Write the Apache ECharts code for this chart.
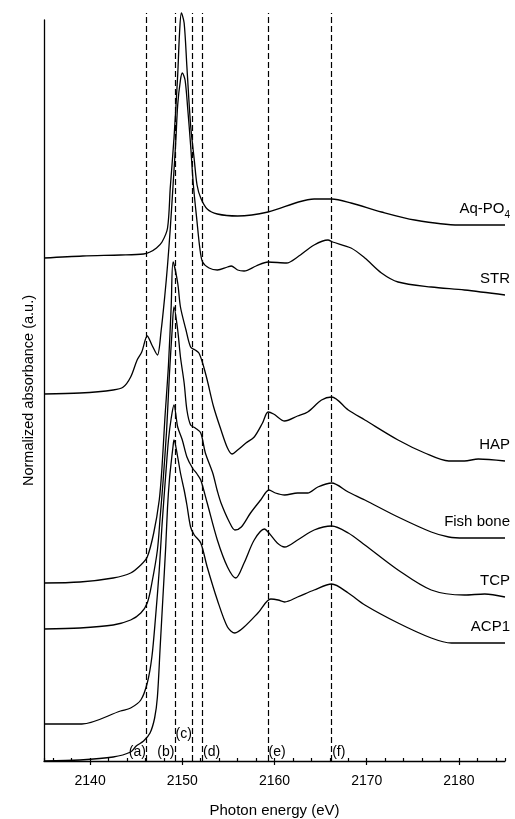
<!DOCTYPE html>
<html>
<head>
<meta charset="utf-8">
<script src="https://cdn.jsdelivr.net/npm/echarts@6/dist/echarts.min.js"></script>
<style>
html, body { margin: 0; padding: 0; background: #fff; }
#chart { width: 515px; height: 819px; }
</style>
</head>
<body>
<div id="chart"></div>
<script>
// P K-edge XANES, offset spectra: [photon energy (eV), normalized absorbance (a.u.)]
var aqPO4 = [[2135.0,5.03],[2139.2,5.05],[2143.3,5.06],[2145.8,5.07],[2146.5,5.09],[2147.2,5.13],[2147.8,5.19],
    [2148.4,5.33],[2148.7,5.74],[2149.1,6.23],[2149.5,6.86],[2149.7,7.28],[2149.9,7.48],[2150.2,7.38],[2150.5,6.94],
    [2150.9,6.36],[2151.3,6.01],[2151.6,5.76],[2152.0,5.63],[2152.7,5.52],[2153.8,5.47],[2156.0,5.45],[2159.3,5.49],
    [2162.6,5.59],[2164.3,5.62],[2166.2,5.62],[2168.3,5.58],[2171.6,5.49],[2175.2,5.41],[2180.0,5.36],[2185.0,5.36]];
var str = [[2135.0,3.67],[2138.9,3.68],[2142.5,3.71],[2143.6,3.74],[2144.4,3.84],[2145.1,4.01],[2145.6,4.09],
    [2146.2,4.25],[2146.7,4.16],[2147.3,4.06],[2147.7,4.30],[2148.1,4.65],[2148.4,4.96],[2148.7,5.33],[2149.0,5.76],
    [2149.3,6.21],[2149.5,6.56],[2149.8,6.81],[2150.0,6.88],[2150.3,6.81],[2150.6,6.51],[2150.9,6.16],[2151.2,5.76],
    [2151.6,5.39],[2151.9,5.13],[2152.2,4.99],[2152.9,4.93],[2153.8,4.91],[2154.9,4.94],[2155.3,4.95],[2156.0,4.91],
    [2156.7,4.90],[2158.0,4.95],[2159.3,4.99],[2161.3,4.98],[2162.5,5.04],[2164.3,5.16],[2165.8,5.21],[2166.3,5.19],
    [2168.3,5.13],[2169.8,5.03],[2171.6,4.88],[2173.4,4.79],[2177.0,4.74],[2180.6,4.71],[2185.0,4.66]];
var hap = [[2135.0,1.78],[2138.9,1.79],[2142.5,1.83],[2144.4,1.88],[2145.5,1.96],[2146.2,2.04],[2146.9,2.28],
    [2147.5,2.61],[2147.8,2.94],[2148.1,3.41],[2148.5,3.96],[2148.8,4.56],[2149.0,4.99],[2149.5,4.78],[2149.8,4.54],
    [2150.4,4.31],[2150.9,4.14],[2151.4,4.11],[2151.8,4.08],[2152.2,3.98],[2152.7,3.81],[2153.4,3.54],[2154.2,3.31],
    [2154.9,3.13],[2155.4,3.07],[2156.0,3.11],[2156.9,3.18],[2157.8,3.24],[2158.7,3.38],[2159.3,3.49],[2159.9,3.47],
    [2161.1,3.40],[2162.5,3.45],[2163.6,3.49],[2165.1,3.61],[2166.2,3.64],[2168.0,3.51],[2169.8,3.41],[2173.4,3.21],
    [2176.3,3.08],[2178.9,3.00],[2180.6,3.00],[2182.1,3.02],[2185.0,3.00]];
var fishBone = [[2135.0,1.32],[2138.9,1.33],[2142.5,1.36],[2144.4,1.41],[2145.5,1.48],[2146.2,1.58],[2146.7,1.78],
    [2147.3,2.11],[2147.6,2.44],[2147.9,2.78],[2148.3,3.31],[2148.6,3.86],[2148.9,4.31],[2149.1,4.54],[2149.5,4.31],
    [2149.8,4.04],[2150.2,3.78],[2150.5,3.51],[2150.9,3.36],[2151.4,3.33],[2152.0,3.28],[2152.5,3.08],[2153.3,2.88],
    [2153.8,2.70],[2154.2,2.58],[2155.1,2.39],[2155.7,2.31],[2156.4,2.34],[2157.4,2.48],[2158.5,2.61],[2159.4,2.71],
    [2160.1,2.68],[2161.1,2.66],[2162.5,2.68],[2163.6,2.68],[2164.7,2.74],[2166.2,2.78],[2168.0,2.69],[2169.8,2.61],
    [2173.4,2.44],[2177.0,2.29],[2178.9,2.24],[2180.6,2.23],[2185.0,2.23]];
var tcp = [[2135.0,0.37],[2139.1,0.37],[2143.3,0.50],[2144.4,0.53],[2145.5,0.61],[2146.2,0.78],[2146.7,1.04],
    [2147.1,1.44],[2147.5,1.91],[2147.8,2.36],[2148.2,2.86],[2148.5,3.21],[2148.8,3.43],[2149.1,3.56],[2149.5,3.34],
    [2150.0,3.21],[2150.5,3.04],[2151.1,2.93],[2151.6,2.87],[2152.0,2.81],[2152.7,2.58],[2153.8,2.21],[2154.9,1.94],
    [2155.8,1.83],[2156.7,1.98],[2157.8,2.21],[2158.9,2.32],[2159.4,2.28],[2160.3,2.18],[2161.1,2.14],[2162.5,2.21],
    [2164.3,2.31],[2166.2,2.35],[2168.0,2.28],[2169.8,2.16],[2173.4,1.91],[2177.0,1.71],[2180.6,1.66],[2182.8,1.67],
    [2185.0,1.64]];
var acp1 = [[2135.0,0.00],[2138.9,0.01],[2142.5,0.04],[2144.4,0.09],[2145.0,0.15],[2145.8,0.20],[2146.5,0.28],
    [2147.0,0.43],[2147.3,0.64],[2147.6,1.14],[2147.9,1.64],[2148.2,2.14],[2148.4,2.54],[2148.6,2.81],[2148.8,2.99],
    [2149.0,3.15],[2149.1,3.21],[2149.5,3.04],[2149.8,2.88],[2150.2,2.71],[2150.5,2.56],[2150.9,2.34],[2151.3,2.26],
    [2152.0,2.18],[2152.7,1.94],[2153.8,1.61],[2154.9,1.34],[2155.7,1.28],[2156.7,1.34],[2158.2,1.48],[2159.6,1.62],
    [2160.4,1.61],[2161.1,1.59],[2162.5,1.64],[2164.3,1.71],[2166.2,1.77],[2168.0,1.68],[2169.8,1.56],[2173.4,1.38],
    [2177.0,1.23],[2179.2,1.18],[2185.0,1.18]];

var spectra = [aqPO4, str, hap, fishBone, tcp, acp1];
var spectraNames = ['Aq-PO{sub|4}', 'STR', 'HAP', 'Fish bone', 'TCP', 'ACP1'];

// reference energies (dashed lines) and their tags
var peakLines = [2146.1, 2149.2, 2151.1, 2152.2, 2159.3, 2166.2];
var peakTags = ['(a)', '(b)', '(c)', '(d)', '(e)', '(f)'];

var FONT = '"Liberation Sans", Arial, sans-serif';
var myChart = echarts.init(document.getElementById('chart'));

var series = spectra.map(function (s, i) {
    return {
        name: spectraNames[i],
        type: 'line',
        data: s,
        showSymbol: false,
        smooth: 0.3,
        clip: false,
        silent: true,
        lineStyle: { color: '#000', width: 1.3 },
        endLabel: {
            show: true,
            formatter: spectraNames[i],
            color: '#000',
            fontFamily: FONT,
            fontSize: 15,
            align: 'right',
            verticalAlign: 'bottom',
            distance: 0,
            offset: [5, -9],
            rich: {
                sub: { fontSize: 10, fontFamily: FONT, color: '#000', verticalAlign: 'bottom', padding: [0, 0, -4, 0] }
            }
        }
    };
});

// dashed reference lines (full height of the plot)
series.push({
    type: 'line',
    data: [],
    silent: true,
    markLine: {
        symbol: 'none',
        silent: true,
        animation: false,
        label: { show: false },
        lineStyle: { color: '#000', width: 1.2, type: [6, 3] },
        data: peakLines.map(function (e) {
            return { xAxis: e };
        })
    }
});

// tags (a)-(f) next to the dashed lines
var tagData = peakTags.map(function (t, i) {
    var item = { name: t, value: [peakLines[i], 0.09], label: { position: i < 2 ? 'left' : 'right', distance: 0 } };
    if (i === 2) {
        item.value = [(peakLines[1] + peakLines[2]) / 2, 0.27];
        item.label = { position: 'inside' };
    }
    return item;
});
series.push({
    type: 'scatter',
    data: tagData,
    symbolSize: 1,
    silent: true,
    clip: false,
    z: 5,
    itemStyle: { color: 'rgba(0,0,0,0)', opacity: 1 },
    label: {
        show: true,
        formatter: '{b}',
        color: '#000',
        opacity: 1,
        fontFamily: FONT,
        fontSize: 14
    }
});

var option = {
    backgroundColor: '#fff',
    animation: false,
    grid: [
        // data area (the highest peak reaches above the y axis line)
        { left: 44, right: 10, top: 13, bottom: 58, outerBoundsMode: 'none', containLabel: false },
        // carries the drawn y axis
        { left: 44, right: 10, top: 20, bottom: 58, outerBoundsMode: 'none', containLabel: false }
    ],
    xAxis: [{
        type: 'value',
        gridIndex: 0,
        min: 2135,
        max: 2185,
        splitNumber: 5,
        name: 'Photon energy (eV)',
        nameLocation: 'middle',
        nameGap: 42,
        nameTextStyle: { color: '#000', fontFamily: FONT, fontSize: 15 },
        axisLine: { show: true, onZero: false, lineStyle: { color: '#000', width: 1.3 } },
        axisTick: { show: true, inside: false, length: 4, lineStyle: { color: '#000', width: 1.2 } },
        axisLabel: { color: '#000', fontFamily: FONT, fontSize: 14, margin: 13,
            showMinLabel: false, showMaxLabel: false,
            formatter: function (v) { return (v % 10 === 0) ? v : ''; } },
        splitLine: { show: false }
    }, {
        type: 'value',
        gridIndex: 0,
        position: 'bottom',
        min: 2135,
        max: 2185,
        splitNumber: 25,
        axisLine: { show: false },
        axisTick: { show: true, inside: true, length: 3, lineStyle: { color: '#000', width: 1.2 } },
        axisLabel: { show: false },
        splitLine: { show: false }
    }, {
        type: 'value',
        gridIndex: 1,
        min: 2135,
        max: 2185,
        show: false
    }],
    yAxis: [{
        type: 'value',
        gridIndex: 0,
        min: 0,
        max: 7.48,
        show: false
    }, {
        type: 'value',
        gridIndex: 1,
        min: 0,
        max: 7.41,
        name: 'Normalized absorbance (a.u.)',
        nameLocation: 'middle',
        nameGap: 8,
        nameTextStyle: { color: '#000', fontFamily: FONT, fontSize: 14.5 },
        axisLine: { show: true, lineStyle: { color: '#000', width: 1.3 } },
        axisTick: { show: false },
        axisLabel: { show: false },
        splitLine: { show: false }
    }],
    series: series
};

myChart.setOption(option);
</script>
</body>
</html>
